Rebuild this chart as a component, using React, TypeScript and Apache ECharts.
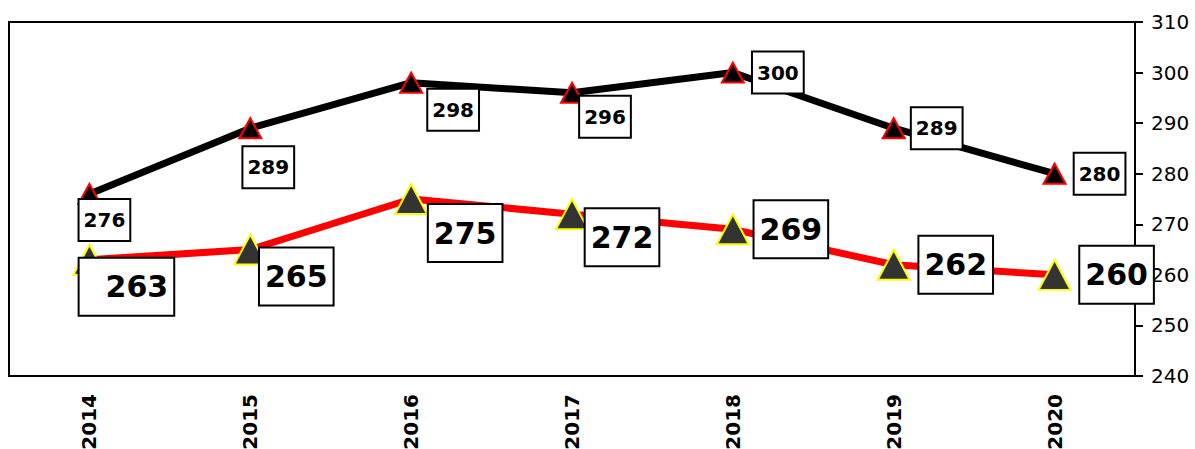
import React, { useEffect, useRef } from "react";
import * as echarts from "echarts";

const years = ["2014", "2015", "2016", "2017", "2018", "2019", "2020"];
const blackValues = [276, 289, 298, 296, 300, 289, 280];
const redValues = [263, 265, 275, 272, 269, 262, 260];
const blackOffsets = [[15, 26], [18, 39], [42, 27], [33, 24], [45, 0], [43, 0], [45, 0]];
const redOffsets = [[37, 27], [46, 27], [54, 34], [50, 23], [58, 0], [62, 0], [62, 0]];

export default function App() {
  const ref = useRef<HTMLDivElement>(null);
  useEffect(() => {
    document.body.style.margin = "0";
    const chart = echarts.init(ref.current!, null, { renderer: "svg" });
    const font = "'DejaVu Sans', Verdana, sans-serif";
    const blackData = blackValues.map((v, i) => ({
      value: v,
      label: { offset: blackOffsets[i] },
    }));
    const redData = redValues.map((v, i) => ({
      value: v,
      label: {
        offset: redOffsets[i],
        padding: i === 0 ? [13, 5, 13, 26] : [13, 5, 13, 5],
      },
    }));
    chart.setOption({
      animation: false,
      grid: {
        left: 9,
        top: 22,
        right: 60,
        bottom: 73,
        outerBoundsMode: "none",
        containLabel: false,
        show: true,
        borderColor: "#000",
        borderWidth: 2,
        backgroundColor: "#fff",
      },
      xAxis: {
        type: "category",
        data: years,
        axisLine: { show: true, lineStyle: { color: "#000", width: 2 } },
        axisTick: { show: false },
        axisLabel: {
          rotate: 90,
          margin: 18,
          color: "#000",
          fontFamily: font,
          fontWeight: "bold",
          fontSize: 20,
        },
      },
      yAxis: {
        type: "value",
        position: "right",
        min: 240,
        max: 310,
        interval: 10,
        splitLine: { show: false },
        axisLine: { show: true, lineStyle: { color: "#000", width: 2 } },
        axisTick: { show: true, length: 8, lineStyle: { color: "#000", width: 2 } },
        axisLabel: {
          margin: 16,
          color: "#000",
          fontFamily: font,
          fontSize: 20,
        },
      },
      series: [
        {
          type: "line",
          data: blackData,
          z: 3,
          lineStyle: { color: "#000", width: 7 },
          symbol: "triangle",
          symbolSize: [22, 20],
          itemStyle: { color: "#000", borderColor: "#ff0000", borderWidth: 2 },
          label: {
            show: true,
            position: "inside",
            color: "#000",
            fontFamily: font,
            fontWeight: "bold",
            fontSize: 20,
            backgroundColor: "#fff",
            borderColor: "#000",
            borderWidth: 2,
            padding: [10, 4],
          },
        },
        {
          type: "line",
          data: redData,
          z: 2,
          lineStyle: { color: "#ff0000", width: 7 },
          symbol: "triangle",
          symbolSize: [32, 30],
          itemStyle: { color: "#333333", borderColor: "#ffff00", borderWidth: 2 },
          label: {
            show: true,
            position: "inside",
            color: "#000",
            fontFamily: font,
            fontWeight: "bold",
            fontSize: 30,
            backgroundColor: "#fff",
            borderColor: "#000",
            borderWidth: 2,
          },
        },
      ],
    });
    return () => chart.dispose();
  }, []);
  return (
    <div
      ref={ref}
      style={{ width: 1195, height: 449, position: "absolute", left: 0, top: 0 }}
    />
  );
}
